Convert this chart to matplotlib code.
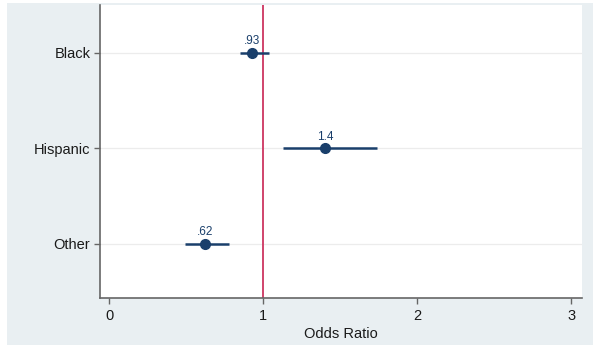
import matplotlib
matplotlib.use("Agg")
import matplotlib.pyplot as plt
from matplotlib.patches import Rectangle

plt.rcParams['font.family'] = ['Liberation Sans', 'DejaVu Sans']

# Odds ratios with 95% confidence intervals
groups = ["Black", "Hispanic", "Other"]
odds_ratio = [0.93, 1.40, 0.62]
ci_low = [0.85, 1.13, 0.49]
ci_high = [1.04, 1.74, 0.78]
value_labels = [".93", "1.4", ".62"]
x_ticks = [0, 1, 2, 3]

W, H = 593, 349
fig = plt.figure(figsize=(W / 100, H / 100), dpi=100)
fig.patch.set_facecolor("white")

# graph region background
fig.add_artist(Rectangle((7 / W, 4 / H), 1 - 7 / W, 1 - 7 / H,
                         transform=fig.transFigure, facecolor="#e9eff2",
                         edgecolor="none", zorder=0))

ax = fig.add_axes([100 / W, 1 - 298 / H, (582 - 100) / W, (298 - 5) / H])
ax.set_facecolor("white")

navy = "#1a3f6b"
ypos = list(range(1, len(groups) + 1))

for y in ypos:
    ax.axhline(y, color="#ececec", lw=0.9, zorder=1)

ax.axvline(1, color="#d0436b", lw=1.4, zorder=2)

ax.hlines(ypos, ci_low, ci_high, color=navy, lw=1.8, zorder=3)
ax.plot(odds_ratio, ypos, "o", color=navy, ms=7, zorder=4)

for x, y, lab in zip(odds_ratio, ypos, value_labels):
    ax.annotate(lab, (x, y), xytext=(0, 4), textcoords="offset points",
                ha="center", va="bottom", fontsize=8.5, color=navy)

ax.set_xlim(-0.06, 3.07)
ax.set_ylim(3.57, 0.5)
ax.set_yticks(ypos)
ax.set_yticklabels(groups)
ax.set_xticks(x_ticks)
ax.set_xticklabels([str(t) for t in x_ticks])
ax.set_xlabel("Odds Ratio", fontsize=10.5, color="#1a1a1a", labelpad=3)

ax.tick_params(axis="both", labelsize=10.5, colors="#666666",
               labelcolor="#1a1a1a", length=4, width=1)
ax.tick_params(axis="x", pad=4)
ax.tick_params(axis="y", pad=3)

for side in ("top", "right"):
    ax.spines[side].set_visible(False)
for side in ("left", "bottom"):
    ax.spines[side].set_color("#666666")
    ax.spines[side].set_linewidth(1.2)

fig.savefig("out.png", dpi=100)
